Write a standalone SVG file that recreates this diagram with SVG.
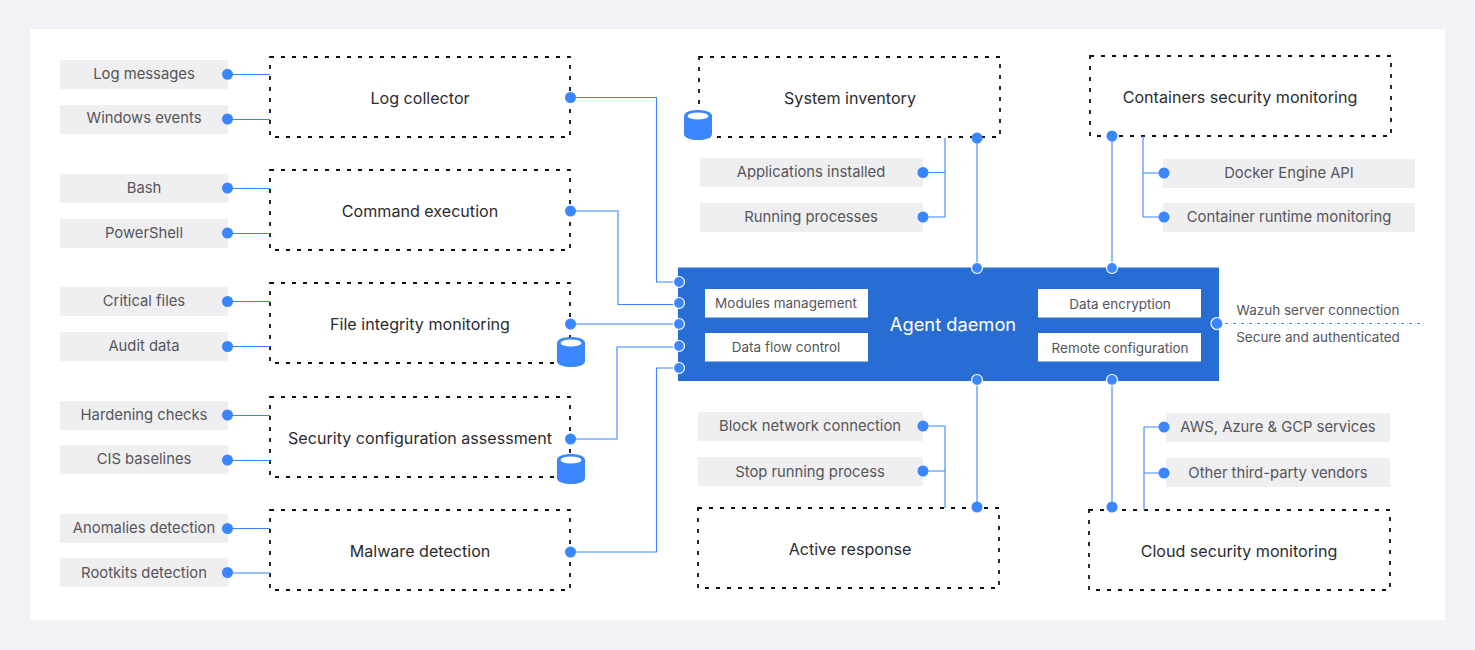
<svg xmlns="http://www.w3.org/2000/svg" width="1475" height="650" viewBox="0 0 1475 650">
<style>
text{font-family:"Inter","Noto Sans",sans-serif;text-anchor:middle;dominant-baseline:central;fill:#55555a}
.t{font-size:16.1px;fill:#2b2b30}
.l{font-size:14.8px}
.m{font-size:13.5px}
.b{fill:#fff;stroke:#111;stroke-width:1.8;stroke-dasharray:4 7}
.g{fill:#efeef1}
.c{fill:none;stroke:#3a86ff;stroke-width:1.1}
.d{fill:#3a86ff}
.w{fill:#3a86ff;stroke:#fff;stroke-width:1.2}
</style>
<defs>
<g id="db"><path class="d" d="M-14 -9C-14 -17 14 -17 14 -9V9C14 17 -14 17 -14 9Z"/><ellipse cx="0" cy="-9" rx="10.5" ry="3.6" fill="#fff"/></g>
</defs>
<rect width="1475" height="650" fill="#f1f2f6"/>
<rect x="30" y="29" width="1415" height="591" fill="#fff"/>

<g id="log-collector"><rect class="b" x="270" y="57" width="300" height="80"/><text class="t" x="420" y="98">Log collector</text></g>
<g id="command-execution"><rect class="b" x="270" y="170" width="300" height="80"/><text class="t" x="420" y="211">Command execution</text></g>
<g id="file-integrity"><rect class="b" x="270" y="283" width="300" height="80"/><text class="t" x="420" y="324">File integrity monitoring</text></g>
<g id="sca"><rect class="b" x="270" y="397" width="300" height="80"/><text class="t" x="420" y="438">Security configuration assessment</text></g>
<g id="malware"><rect class="b" x="270" y="510" width="300" height="80"/><text class="t" x="420" y="551">Malware detection</text></g>
<g id="system-inventory"><rect class="b" x="699" y="57" width="301" height="80"/><text class="t" x="850" y="98">System inventory</text></g>
<g id="containers"><rect class="b" x="1090" y="56" width="301" height="80"/><text class="t" x="1240" y="97">Containers security monitoring</text></g>
<g id="active-response"><rect class="b" x="698" y="508" width="301" height="80"/><text class="t" x="850" y="549">Active response</text></g>
<g id="cloud"><rect class="b" x="1089" y="510" width="301" height="80"/><text class="t" x="1239" y="551">Cloud security monitoring</text></g>

<g id="labels-left">
<rect class="g" x="60" y="60" width="168" height="29"/><text class="l" x="144" y="74">Log messages</text>
<rect class="g" x="60" y="105" width="168" height="29"/><text class="l" x="144" y="118">Windows events</text>
<rect class="g" x="60" y="174" width="168" height="29"/><text class="l" x="144" y="188">Bash</text>
<rect class="g" x="60" y="219" width="168" height="29"/><text class="l" x="144" y="233">PowerShell</text>
<rect class="g" x="60" y="287" width="168" height="29"/><text class="l" x="144" y="301">Critical files</text>
<rect class="g" x="60" y="332" width="168" height="29"/><text class="l" x="144" y="346">Audit data</text>
<rect class="g" x="60" y="401" width="168" height="29"/><text class="l" x="144" y="415">Hardening checks</text>
<rect class="g" x="60" y="445" width="168" height="29"/><text class="l" x="144" y="459">CIS baselines</text>
<rect class="g" x="60" y="514" width="168" height="29"/><text class="l" x="144" y="528">Anomalies detection</text>
<rect class="g" x="60" y="558" width="168" height="29"/><text class="l" x="144" y="573">Rootkits detection</text>
</g>
<g id="labels-mid">
<rect class="g" x="700" y="158" width="223" height="29"/><text class="l" x="811" y="172">Applications installed</text>
<rect class="g" x="700" y="203" width="223" height="29"/><text class="l" x="811" y="217">Running processes</text>
<rect class="g" x="698" y="412" width="225" height="29"/><text class="l" x="810" y="426">Block network connection</text>
<rect class="g" x="698" y="457" width="225" height="29"/><text class="l" x="810" y="472">Stop running process</text>
</g>
<g id="labels-right">
<rect class="g" x="1163" y="159" width="252" height="29"/><text class="l" x="1289" y="173">Docker Engine API</text>
<rect class="g" x="1163" y="203" width="252" height="29"/><text class="l" x="1289" y="217">Container runtime monitoring</text>
<rect class="g" x="1166" y="413" width="224" height="29"/><text class="l" x="1278" y="427">AWS, Azure &amp; GCP services</text>
<rect class="g" x="1166" y="458" width="224" height="29"/><text class="l" x="1278" y="473">Other third-party vendors</text>
</g>

<g id="connectors">
<path class="c" d="M227 74.500H270M227 119.500H270M227 188.500H270M227 233.500H270M227 301.500H270M227 346.500H270M227 415.500H270M227 460.500H270M227 528.500H270M227 573H270"/>
<path class="c" d="M570 97.500H656.500V282H678M570 211H618V304.500H678M570 324H678M570 439H617V347H678M570 552H656.500V368H678"/>
<path class="c" d="M977 138V267M923 172.500H945M923 217H945M945 138V217"/>
<path class="c" d="M1112 136V267M1143 136V217M1143 173H1164M1143 217H1164"/>
<path class="c" d="M977 381V507M923 426H945M923 471H945M945 426V508"/>
<path class="c" d="M1112 381V507M1144 427V510M1144 427H1164M1144 473H1164"/>
<path class="c" d="M1217 323.500H1420" stroke-dasharray="3 5"/>
<g class="d">
<circle cx="227.500" cy="74.300" r="5.500"/><circle cx="227.500" cy="119" r="5.500"/><circle cx="227.500" cy="188" r="5.500"/><circle cx="227.500" cy="233" r="5.500"/><circle cx="227.500" cy="301.500" r="5.500"/><circle cx="227.500" cy="346.500" r="5.500"/><circle cx="227.500" cy="415" r="5.500"/><circle cx="227.500" cy="460" r="5.500"/><circle cx="227.500" cy="528.500" r="5.500"/><circle cx="227.500" cy="572.500" r="5.500"/>
<circle cx="570.500" cy="97.500" r="5.500"/><circle cx="570.500" cy="211" r="5.500"/><circle cx="570.500" cy="324" r="5.500"/><circle cx="570.500" cy="439" r="5.500"/><circle cx="570.500" cy="552" r="5.500"/>
<circle cx="923" cy="172.500" r="5.500"/><circle cx="923" cy="217" r="5.500"/><circle cx="977" cy="138" r="5.500"/><circle cx="1112" cy="136" r="5.500"/><circle cx="1164" cy="173" r="5.500"/><circle cx="1164" cy="217" r="5.500"/>
<circle cx="923" cy="426" r="5.500"/><circle cx="923" cy="471" r="5.500"/><circle cx="977" cy="507" r="5.500"/><circle cx="1112" cy="507" r="5.500"/><circle cx="1164" cy="427" r="5.500"/><circle cx="1164" cy="473" r="5.500"/>
</g>
</g>

<g id="db-fim"><use href="#db" x="571" y="352"/></g>
<g id="db-sca"><use href="#db" x="571" y="469"/></g>
<g id="db-inventory"><use href="#db" x="698" y="125"/></g>

<g id="agent-daemon">
<rect x="678" y="267.500" width="541" height="113.500" fill="#276dd4"/>
<text x="953" y="324" font-size="18.300" style="fill:#fff">Agent daemon</text>
<rect x="705" y="289" width="163" height="28.500" fill="#fff"/><text class="m" x="786" y="303">Modules management</text>
<rect x="705" y="333" width="163" height="28.500" fill="#fff"/><text class="m" x="786" y="347">Data flow control</text>
<rect x="1038" y="289" width="163" height="28.500" fill="#fff"/><text class="m" x="1120" y="304">Data encryption</text>
<rect x="1038" y="333" width="163" height="28.500" fill="#fff"/><text class="m" x="1120" y="348">Remote configuration</text>
<circle class="w" cx="679" cy="282" r="5.500"/><circle class="w" cx="679" cy="303" r="5.500"/><circle class="w" cx="679" cy="324" r="5.500"/><circle class="w" cx="679" cy="346" r="5.500"/><circle class="w" cx="679" cy="368" r="5.500"/>
<circle class="w" cx="977" cy="268" r="5.500"/><circle class="w" cx="1112" cy="268" r="5.500"/><circle class="w" cx="977" cy="380" r="5.500"/><circle class="w" cx="1112" cy="380" r="5.500"/>
<circle class="w" cx="1217" cy="323.500" r="6"/>
</g>
<g id="server-labels">
<text class="m" x="1318" y="310">Wazuh server connection</text>
<text class="m" x="1318" y="337">Secure and authenticated</text>
</g>
</svg>
